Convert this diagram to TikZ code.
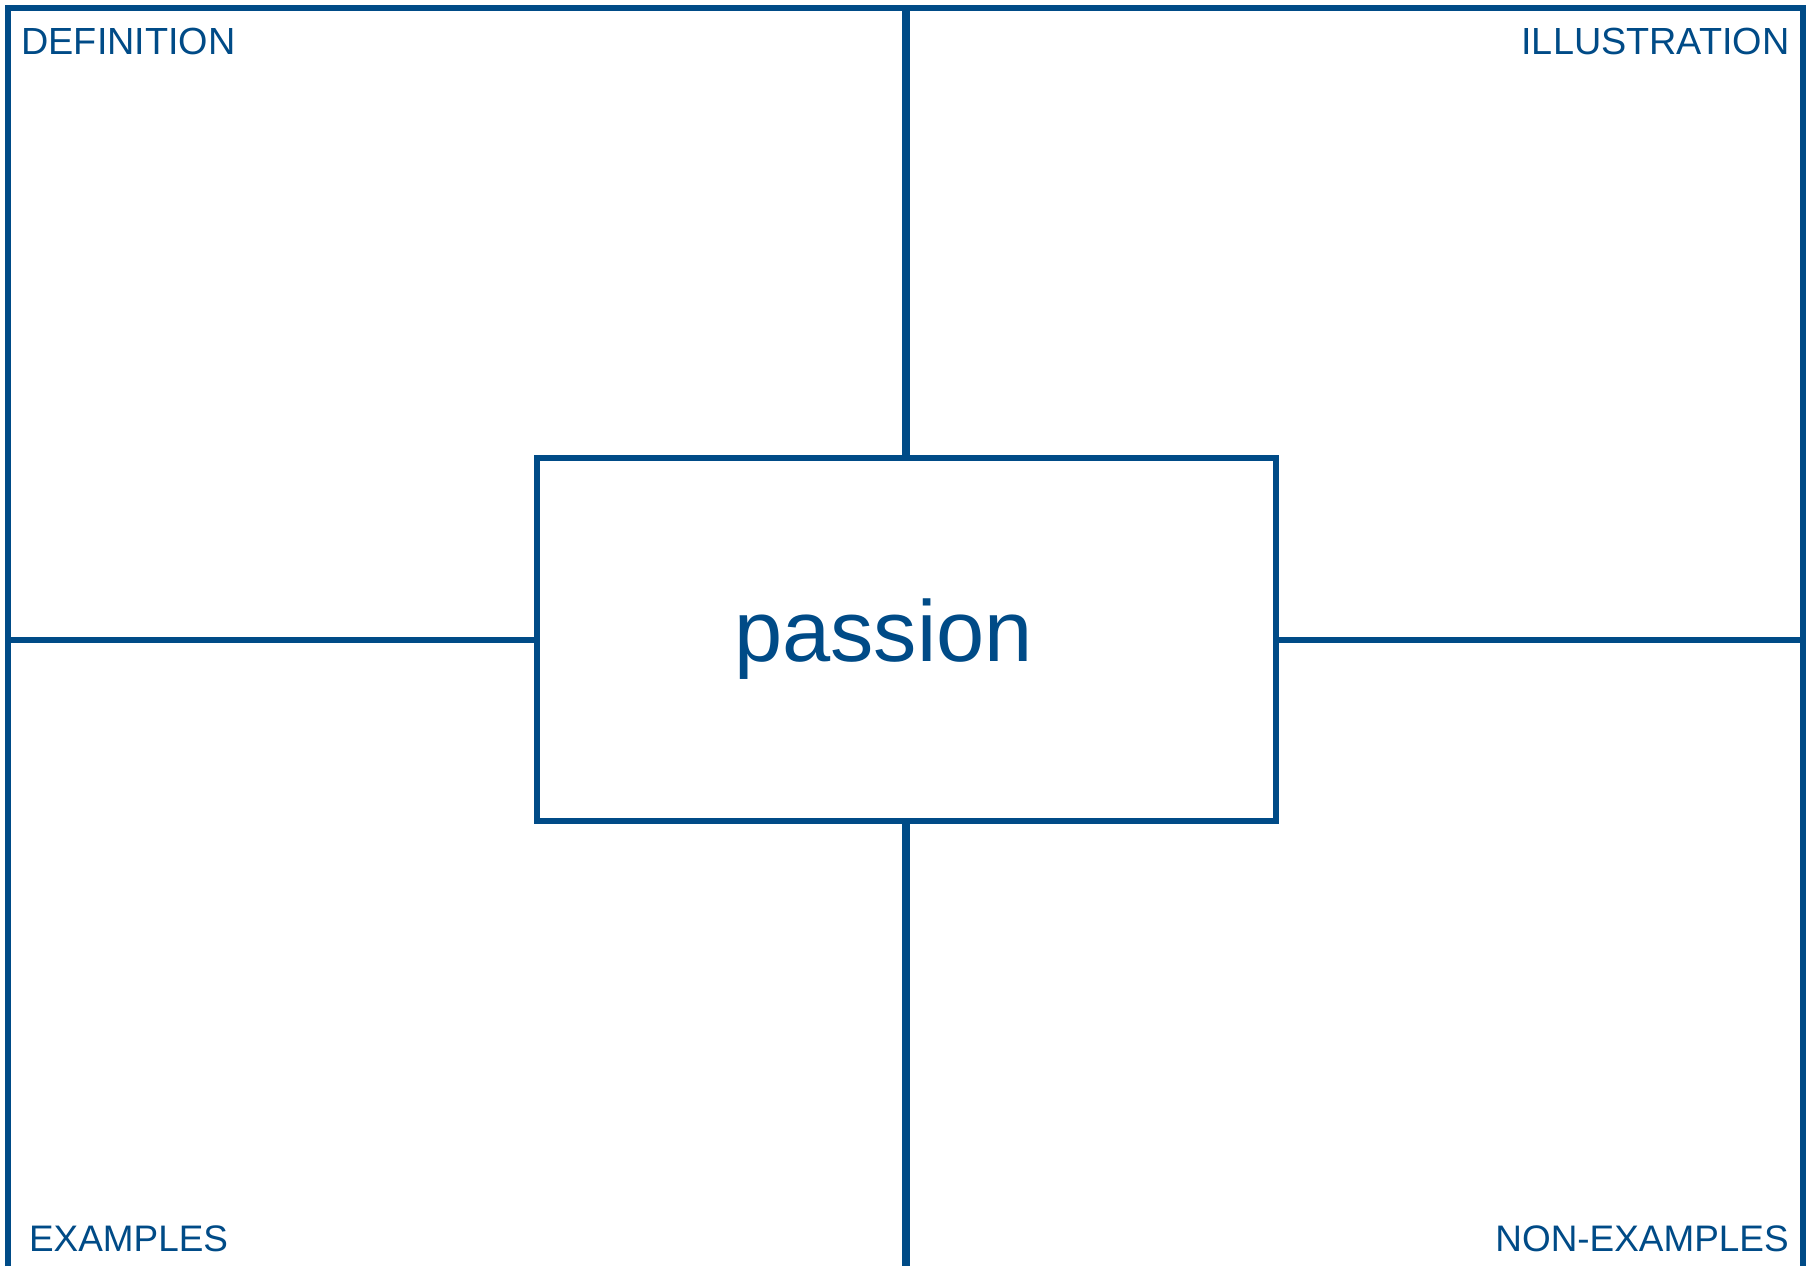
\documentclass[tikz,border=0pt]{standalone}
\usepackage{fontspec}
\setmainfont{Liberation Sans}
\definecolor{frameblue}{HTML}{004B87}
\begin{document}
\begin{tikzpicture}[x=0.5pt,y=-0.5pt,
  rule/.style={draw=frameblue,line width=3pt,line join=miter},
  thickrule/.style={draw=frameblue,line width=3.8pt},
  corner/.style={text=frameblue,font=\fontsize{18.9pt}{22pt}\selectfont,inner sep=0pt},
  lowcorner/.style={corner,font=\fontsize{18.45pt}{22pt}\selectfont},
  wordstyle/.style={text=frameblue,font=\fontsize{43.3pt}{52pt}\selectfont,inner sep=0pt}]
\useasboundingbox[fill=white] (0,0) rectangle (1813,1266);
% outer frame
\coordinate (bl) at (8,1266);
\coordinate (tl) at (8,8);
\coordinate (tr) at (1803,8);
\coordinate (br) at (1803,1266);
\coordinate (topmid) at (906,8);
\coordinate (botmid) at (906,1266);
\coordinate (leftmid) at (8,639.5);
\coordinate (rightmid) at (1803,639.5);
\draw[rule] (bl) -- (tl) -- (tr) -- (br);
% centre box
\node[rule,rectangle,inner sep=0pt,minimum width=369.5pt,minimum height=181.5pt] (box) at (906,639.5) {};
% connectors
\draw[thickrule] (box.north) -- (topmid);
\draw[thickrule] (box.south) -- (botmid);
\draw[rule] (leftmid) -- (box.west);
\draw[rule] (box.east) -- (rightmid);
% labels
\node[corner,anchor=base west] (def) at (21,54.3) {DEFINITION};
\node[corner,anchor=base east] (ill) at (1790,54) {ILLUSTRATION};
\node[lowcorner,anchor=base west] (ex) at (28.7,1251) {EXAMPLES};
\node[lowcorner,anchor=base east] (nonex) at (1789,1251.5) {NON-EXAMPLES};
\node[wordstyle,anchor=base] (word) at (883.4,661.7) {passion};
\end{tikzpicture}
\end{document}
